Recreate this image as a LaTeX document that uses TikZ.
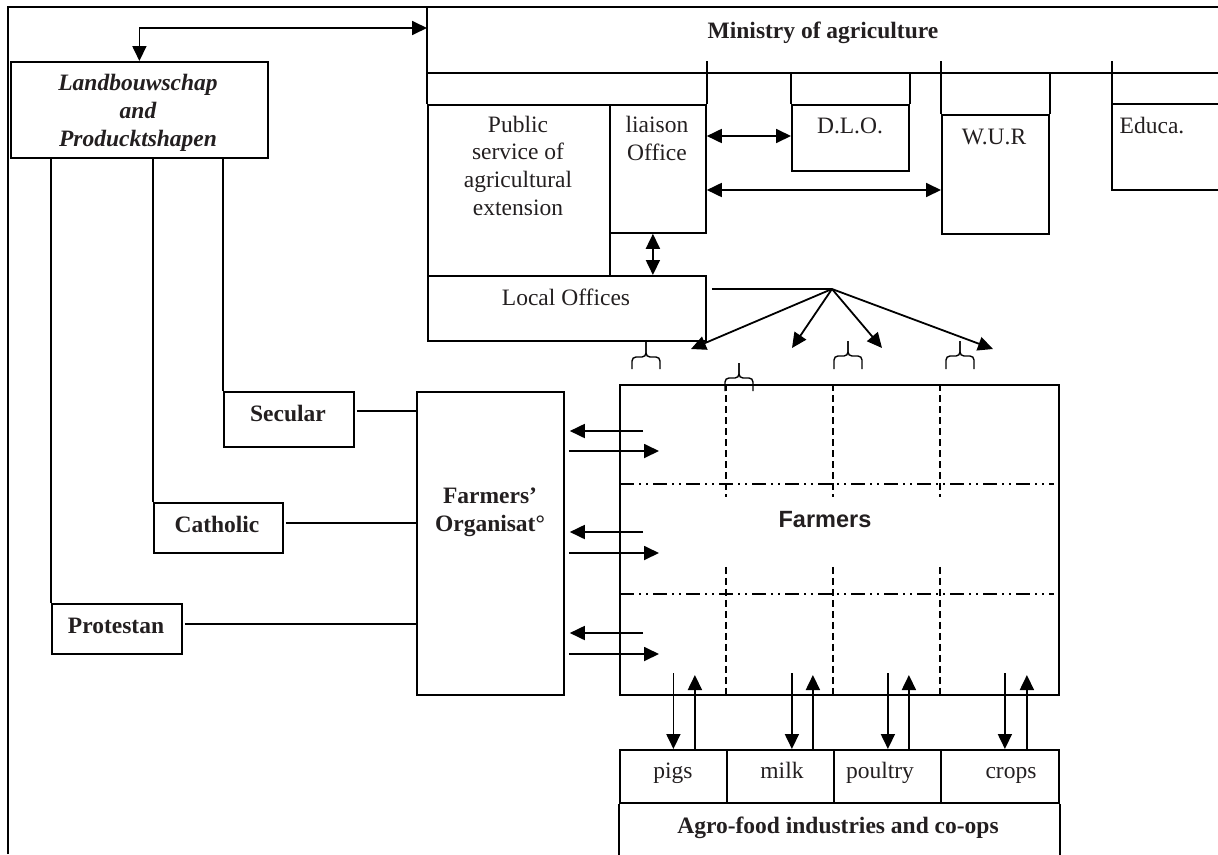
\documentclass[tikz,border=0pt]{standalone}
\usepackage{fontspec}
\setmainfont{Liberation Serif}
\newfontfamily\arialfont{Liberation Sans}
\usetikzlibrary{arrows.meta,calc}
\definecolor{ink}{RGB}{35,31,32}
\begin{document}
\begin{tikzpicture}[x=1pt,y=-1pt,
  line width=1.8pt,
  font=\fontsize{23.5}{27.6}\selectfont,
  tip/.style={-{Triangle[length=15pt,width=14pt]}},
  dtip/.style={{Triangle[length=15pt,width=14pt]}-{Triangle[length=15pt,width=14pt]}},
  box/.style={draw, rectangle, inner sep=0pt, anchor=north west},
  txt/.style={align=center, inner sep=0pt, text=ink, anchor=base},
  bf/.style={font=\fontsize{23.5}{28.5}\selectfont\bfseries},
  vdash/.style={line width=1.4pt, dash pattern=on 7pt off 4pt},
  ddot/.style={line width=1.4pt, dash pattern=on 14pt off 5pt on 2pt off 5pt on 2pt off 5pt},
  brc/.pic={
    \draw[line width=1.4pt, rounded corners=4pt] (-14,#1) -- (-14,15) -- (0,15) -- (0,0);
    \draw[line width=1.4pt, rounded corners=4pt] (14,#1) -- (14,15) -- (0,15) -- (0,0);
  }
]
\useasboundingbox (0,0) rectangle (1218,854);

% outer frame
\draw[line width=2.8pt] (8,854) -- (8,7) -- (1218,7);

% boxes
\node[box, minimum width=257pt, minimum height=96pt] (land) at (10,61) {};
\node[box, minimum width=182pt, minimum height=171pt] (pub) at (427,104) {};
\node[box, minimum width=96pt, minimum height=128pt] (lia) at (609,104) {};
\node[box, minimum width=278pt, minimum height=65pt] (loc) at (427,275) {};
\node[box, minimum width=117pt, minimum height=66pt] (dlo) at (791,104) {};
\node[box, minimum width=107pt, minimum height=119pt] (wur) at (941,114) {};
\node[box, minimum width=130pt, minimum height=55pt] (sec) at (223,391) {};
\node[box, minimum width=129pt, minimum height=50pt] (cath) at (153,502) {};
\node[box, minimum width=130pt, minimum height=50pt] (prot) at (51,603) {};
\node[box, minimum width=147pt, minimum height=303pt] (fo) at (416,391) {};
\node[box, minimum width=439pt, minimum height=310pt] (far) at (619,384) {};
\node[box, minimum width=107pt, minimum height=53pt] (pigs) at (619,749) {};
\node[box, minimum width=107pt, minimum height=53pt] (milk) at (726,749) {};
\node[box, minimum width=107pt, minimum height=53pt] (poul) at (833,749) {};
\node[box, minimum width=118pt, minimum height=53pt] (crops) at (940,749) {};

% ministry frame lines
\draw (pub.north west) -- ++(0,-97);
\draw (427,73) -- (1218,73);
\draw (lia.north east) -- ++(0,-43);
\draw (dlo.north west) -- ++(0,-32);
\draw (dlo.north east) -- ++(0,-32);
\draw (wur.north west) -- ++(0,-53);
\draw (wur.north east) -- ++(0,-41);
\draw (1112,61) -- (1112,190) -- (1218,190);
\draw (1112,104) -- (1218,104);

% agro-food frame
\draw (pigs.south west) -- ++(0,53);
\draw (crops.south east) -- ++(0,53);

% texts (anchored on the baseline of the last line)
\node[txt, bf] (minT) at (823,38) {Ministry of agriculture};
\node[txt, font=\fontsize{23.5}{27.8}\selectfont\bfseries\itshape] (landT) at (138,146.5) {Landbouwschap\\and\\Producktshapen};
\node[txt] (pubT) at (518,215) {Public\\service of\\agricultural\\extension};
\node[txt] (liaT) at (657,160.5) {liaison\\Office};
\node[txt] (locT) at (566,305.5) {Local Offices};
\node[txt] (dloT) at (850,133) {D.L.O.};
\node[txt] (wurT) at (994,144) {W.U.R};
\node[txt] (eduT) at (1152,133) {Educa.};
\node[txt, bf] (secT) at (288,421) {Secular};
\node[txt, bf] (cathT) at (217,532) {Catholic};
\node[txt, bf] (protT) at (116,633) {Protestan};
\node[txt, bf] (foT) at (490,531.5) {Farmers’\\Organisat°};
\node[txt, font=\arialfont\fontsize{23.5}{28}\selectfont\bfseries] (farT) at (825,527) {Farmers};
\node[txt] (pigsT) at (673,778) {pigs};
\node[txt] (milkT) at (782,778) {milk};
\node[txt] (poulT) at (880,778) {poultry};
\node[txt] (cropsT) at (1011,778) {crops};
\node[txt, bf] (agroT) at (838,833) {Agro-food industries and co-ops};

% Landbouwschap <-> Ministry
\coordinate (minw) at (427,28);
\draw[dtip] (land.north) |- (minw);

% Landbouwschap -> religious organisations
\draw (sec.north west) -- (sec.north west |- land.south);
\draw (cath.north west) -- (cath.north west |- land.south);
\draw (prot.north west) -- (prot.north west |- land.south);

% religious -> Farmers' organisation
\draw ($(sec.north east)+(2,20)$) -- ($(sec.north east -| fo.west)+(0,20)$);
\draw ($(cath.north east)+(2,21)$) -- ($(cath.north east -| fo.west)+(0,21)$);
\draw ($(prot.north east)+(2,21)$) -- ($(prot.north east -| fo.west)+(0,21)$);

% ministry internal arrows
\draw[dtip] ($(lia.north east)+(0,32)$) -- ($(dlo.north west)+(0,32)$);
\draw[dtip] ($(lia.north east)+(0,86)$) -- ($(wur.north west)+(0,76)$);
\draw[dtip] ($(lia.south)+(-5,0)$) -- ($(loc.north -| lia.south)+(-5,0)$);

% fan from local offices
\coordinate (hub) at (832,289);
\coordinate (f1) at (691,349);
\coordinate (f2) at (792,348);
\coordinate (f3) at (882,348);
\coordinate (f4) at (993,349);
\draw ($(loc.north east)+(5,14)$) -- (hub);
\foreach \f in {f1,f2,f3,f4} { \draw[tip] (hub) -- (\f); }

% braces
\pic at (646,342) {brc=27};
\pic at (739,363) {brc=28};
\pic at (848,341) {brc=28};
\pic at (960,341) {brc=28};

% farmers grid
\foreach \dx in {107,214,321} {
  \draw[vdash] ($(far.north west)+(\dx,0)$) -- ($(far.north west)+(\dx,113)$);
  \draw[vdash] ($(far.south west)+(\dx,-129)$) -- ($(far.south west)+(\dx,0)$);
}
\draw[ddot] ($(far.north west)+(1,100)$) -- ($(far.north east)+(-6,100)$);
\draw[ddot] ($(far.north west)+(1,210)$) -- ($(far.north east)+(-6,210)$);

% farmers' organisation <-> farmers
\foreach \dy in {47,148,249} {
  \draw[tip] ($(far.north west)+(24,\dy)$) -- ($(fo.east |- far.north west)+(5,\dy)$);
}
\foreach \dy in {67,169,270} {
  \draw[tip] ($(fo.east |- far.north west)+(4,\dy)$) -- ($(far.north west)+(40,\dy)$);
}

% farmers <-> products
\foreach \n/\a/\b in {pigs/0/21.5, milk/11.5/32.5, poul/0.5/21.5, crops/5/27} {
  \draw[tip] ($(\n.north)+(\a,-76)$) -- ($(\n.north)+(\a,0)$);
  \draw[tip] ($(\n.north)+(\b,0)$) -- ($(\n.north)+(\b,-74)$);
}
\end{tikzpicture}
\end{document}
